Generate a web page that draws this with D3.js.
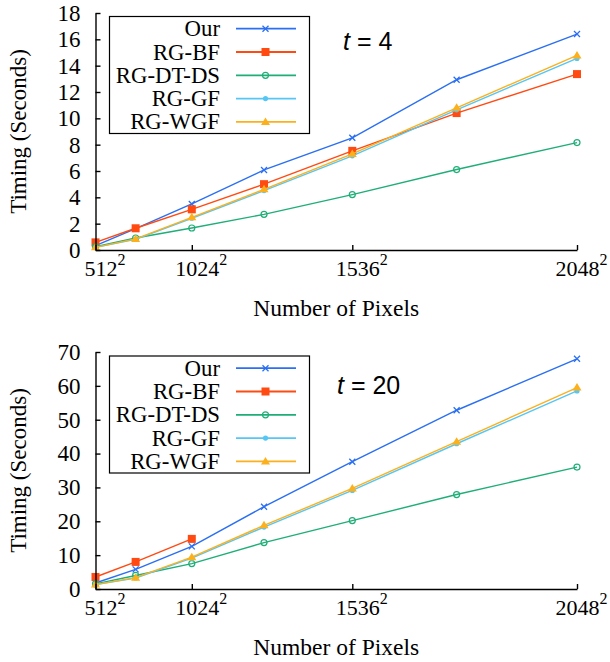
<!DOCTYPE html>
<html>
<head>
<meta charset="utf-8">
<script src="https://cdn.jsdelivr.net/npm/d3@7"></script>
<style>
  body { margin: 0; background: #fff; }
  svg text { font-family: "Liberation Serif", "Times New Roman", serif; fill: #000; }
</style>
</head>
<body>
<div id="chart"></div>
<script>
// image side lengths (the x value is side^2 pixels)
const sides = [512, 768, 1024, 1280, 1536, 1792, 2048];
const xTickSides = [512, 1024, 1536, 2048];
const seriesNames = ["Our", "RG-BF", "RG-DT-DS", "RG-GF", "RG-WGF"];
const seriesColors = ["#2b6ff2", "#ff4a12", "#1fae78", "#56c6f5", "#fbb01c"];
const seriesMarkers = ["cross", "square", "circle", "dot", "triangle"];

// t = 4
const t4Our = [0.33, 1.62, 3.5, 6.08, 8.52, 12.93, 16.4];
const t4BF = [0.58, 1.65, 3.09, 5.0, 7.53, 10.4, 13.36];
const t4DTDS = [0.25, 0.91, 1.67, 2.71, 4.21, 6.11, 8.16];
const t4GF = [0.2, 0.81, 2.41, 4.51, 7.15, 10.65, 14.55];
const t4WGF = [0.2, 0.84, 2.48, 4.61, 7.3, 10.8, 14.78];
const t4Ticks = [0, 2, 4, 6, 8, 10, 12, 14, 16, 18];

// t = 20 (RG-BF only measured up to 1024^2)
const t20Our = [1.78, 5.8, 12.6, 24.3, 37.6, 52.8, 68.0];
const t20BF = [3.55, 8.0, 14.8];
const t20DTDS = [1.5, 4.0, 7.5, 13.7, 20.2, 27.9, 36.0];
const t20GF = [1.3, 3.25, 9.1, 18.3, 29.1, 42.9, 58.5];
const t20WGF = [1.3, 3.35, 9.4, 18.8, 29.7, 43.5, 59.5];
const t20Ticks = [0, 10, 20, 30, 40, 50, 60, 70];

const width = 610, height = 662;

const svg = d3.select("#chart").append("svg")
  .attr("width", width)
  .attr("height", height);

const x = d3.scaleLinear()
  .domain([512 * 512, 2048 * 2048])
  .range([95.5, 577]);

function drawMarker(g, type, cx, cy, color) {
  if (type == "cross") {
    g.append("path")
      .attr("d", `M${cx-3},${cy-3}L${cx+3},${cy+3}M${cx-3},${cy+3}L${cx+3},${cy-3}`)
      .style("stroke", color).style("stroke-width", 1.3).style("fill", "none");
  } else if (type == "square") {
    g.append("rect")
      .attr("x", cx - 4).attr("y", cy - 4).attr("width", 8).attr("height", 8)
      .style("fill", color);
  } else if (type == "circle") {
    g.append("circle")
      .attr("cx", cx).attr("cy", cy).attr("r", 3)
      .style("fill", "none").style("stroke", color).style("stroke-width", 1.2);
  } else if (type == "dot") {
    g.append("circle")
      .attr("cx", cx).attr("cy", cy).attr("r", 2.6)
      .style("fill", color);
  } else {
    g.append("path")
      .attr("d", `M${cx},${cy-4.5}L${cx+4.5},${cy+3}L${cx-4.5},${cy+3}Z`)
      .style("fill", color);
  }
}

function drawPanel(opts) {
  const g = svg.append("g");

  const y = d3.scaleLinear()
    .domain(opts.yDomain)
    .range([opts.bottom, opts.top]);

  // plot lines first, in legend order
  opts.series.forEach((vals, i) => {
    const pts = vals.map((v, j) => ({ n: sides[j] * sides[j], v: v }));
    g.append("path")
      .datum(pts)
      .attr("d", d3.line().x(d => x(d.n)).y(d => y(d.v)))
      .style("fill", "none")
      .style("stroke", seriesColors[i])
      .style("stroke-width", 1.4);
    pts.forEach(d => drawMarker(g, seriesMarkers[i], x(d.n), y(d.v), seriesColors[i]));
  });

  const yAxis = d3.axisLeft(y)
    .tickValues(opts.yTicks)
    .tickSizeInner(-5)
    .tickSizeOuter(0)
    .tickPadding(15);

  const ya = g.append("g")
    .attr("transform", `translate(${x.range()[0]},0)`)
    .call(yAxis);
  ya.selectAll("text").style("font-size", "23px").attr("font-family", null);
  ya.selectAll("path, line").style("stroke", "#000").style("stroke-width", 1.4);

  const xAxis = d3.axisBottom(x)
    .tickValues(xTickSides.map(s => s * s))
    .tickSizeInner(-5)
    .tickSizeOuter(0)
    .tickPadding(0)
    .tickFormat(() => "");

  const xa = g.append("g")
    .attr("transform", `translate(0,${opts.bottom})`)
    .call(xAxis);
  xa.selectAll("path, line").style("stroke", "#000").style("stroke-width", 1.4);
  xa.selectAll(".tick text").each(function(d) {
    const t = d3.select(this)
      .attr("y", 26)
      .attr("dy", null)
      .attr("font-family", null)
      .style("font-size", "22px")
      .style("text-anchor", "middle");
    t.append("tspan").text(Math.round(Math.sqrt(d)));
    t.append("tspan").attr("dy", -11).style("font-size", "16px").text("2");
    // keep the last label inside the page
    const w = this.getComputedTextLength();
    t.attr("x", Math.min(9, width - 3 - x(d) - w / 2));
  });

  // axis titles
  g.append("text")
    .attr("transform", `translate(26,${(opts.top + opts.bottom) / 2}) rotate(-90)`)
    .style("text-anchor", "middle")
    .style("font-size", "23px")
    .text("Timing (Seconds)");

  g.append("text")
    .attr("x", (x.range()[0] + x.range()[1]) / 2)
    .attr("y", opts.bottom + 66)
    .style("text-anchor", "middle")
    .style("font-size", "23.5px")
    .text("Number of Pixels");

  // t label
  const tl = g.append("text")
    .attr("x", opts.tX)
    .attr("y", opts.tY)
    .style("font-size", "25px")
    .style("font-family", "'Liberation Sans', Arial, sans-serif");
  tl.append("tspan").style("font-style", "italic").text("t");
  tl.append("tspan").text(" = " + opts.t);

  // legend
  const lg = g.append("g");
  lg.append("rect")
    .attr("x", 109.5).attr("y", opts.legendTop + 0.5)
    .attr("width", 200).attr("height", 117)
    .style("fill", "#fff").style("stroke", "#000").style("stroke-width", 1.2);
  seriesNames.forEach((name, i) => {
    const cy = opts.legendTop + 12.7 + i * 23.3;
    lg.append("text")
      .attr("transform", `translate(220,${cy + 7.5}) scale(1.06,1.04)`)
      .style("text-anchor", "end")
      .style("font-size", "21.5px")
      .text(name);
    lg.append("line")
      .attr("x1", 236).attr("x2", 296)
      .attr("y1", cy).attr("y2", cy)
      .style("stroke", seriesColors[i])
      .style("stroke-width", 1.8);
    drawMarker(lg, seriesMarkers[i], 265.5, cy, seriesColors[i]);
  });
}

drawPanel({
  top: 13, bottom: 250,
  yDomain: [0, 18], yTicks: t4Ticks,
  series: [t4Our, t4BF, t4DTDS, t4GF, t4WGF],
  t: "4", tX: 343, tY: 50,
  legendTop: 16
});

drawPanel({
  top: 352, bottom: 589,
  yDomain: [0, 70], yTicks: t20Ticks,
  series: [t20Our, t20BF, t20DTDS, t20GF, t20WGF],
  t: "20", tX: 337, tY: 394,
  legendTop: 355.5
});
</script>
</body>
</html>
